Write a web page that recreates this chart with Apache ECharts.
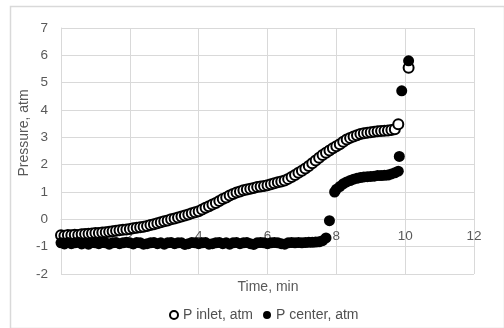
<!DOCTYPE html>
<html>
<head>
<meta charset="utf-8">
<script src="https://cdn.jsdelivr.net/npm/echarts@6/dist/echarts.min.js"></script>
<style>
html, body { margin: 0; padding: 0; background: #fff; }
#chart { width: 504px; height: 328px; }
</style>
</head>
<body>
<div id="chart"></div>
<script>
// 数据：时间（min）与压力（atm）
var inletTime = [
	0.0, 0.1, 0.2, 0.3, 0.4, 0.5, 0.6, 0.7, 0.8, 0.9,
	1.0, 1.1, 1.2, 1.3, 1.4, 1.5, 1.6, 1.7, 1.8, 1.9,
	2.0, 2.1, 2.2, 2.3, 2.4, 2.5, 2.6, 2.7, 2.8, 2.9,
	3.0, 3.1, 3.2, 3.3, 3.4, 3.5, 3.6, 3.7, 3.8, 3.9,
	4.0, 4.1, 4.2, 4.3, 4.4, 4.5, 4.6, 4.7, 4.8, 4.9,
	5.0, 5.1, 5.2, 5.3, 5.4, 5.5, 5.6, 5.7, 5.8, 5.9,
	6.0, 6.1, 6.2, 6.3, 6.4, 6.5, 6.6, 6.7, 6.8, 6.9,
	7.0, 7.1, 7.2, 7.3, 7.4, 7.5, 7.6, 7.7, 7.8, 7.9,
	8.0, 8.1, 8.2, 8.3, 8.4, 8.5, 8.6, 8.7, 8.8, 8.9,
	9.0, 9.1, 9.2, 9.3, 9.4, 9.5, 9.6, 9.7, 9.8, 10.1
];
var inletPressure = [
	-0.58, -0.60, -0.57, -0.58, -0.56, -0.57, -0.55, -0.54, -0.53, -0.52,
	-0.50, -0.50, -0.48, -0.47, -0.45, -0.44, -0.42, -0.40, -0.38, -0.37,
	-0.35, -0.33, -0.31, -0.29, -0.27, -0.24, -0.21, -0.18, -0.14, -0.11,
	-0.07, -0.04, 0.00, 0.03, 0.07, 0.10, 0.14, 0.18, 0.22, 0.26,
	0.30, 0.36, 0.42, 0.48, 0.54, 0.60, 0.67, 0.74, 0.80, 0.87,
	0.93, 0.98, 1.02, 1.06, 1.09, 1.12, 1.15, 1.18, 1.20, 1.22,
	1.25, 1.28, 1.32, 1.36, 1.38, 1.42, 1.48, 1.55, 1.62, 1.70,
	1.78, 1.86, 1.95, 2.05, 2.15, 2.25, 2.35, 2.44, 2.52, 2.60,
	2.67, 2.75, 2.84, 2.92, 2.98, 3.03, 3.08, 3.12, 3.15, 3.17,
	3.19, 3.20, 3.22, 3.23, 3.24, 3.25, 3.27, 3.30, 3.48, 5.55
];
var centerTime = [
	0.0, 0.1, 0.2, 0.3, 0.4, 0.5, 0.6, 0.7, 0.8, 0.9,
	1.0, 1.1, 1.2, 1.3, 1.4, 1.5, 1.6, 1.7, 1.8, 1.9,
	2.0, 2.1, 2.2, 2.3, 2.4, 2.5, 2.6, 2.7, 2.8, 2.9,
	3.0, 3.1, 3.2, 3.3, 3.4, 3.5, 3.6, 3.7, 3.8, 3.9,
	4.0, 4.1, 4.2, 4.3, 4.4, 4.5, 4.6, 4.7, 4.8, 4.9,
	5.0, 5.1, 5.2, 5.3, 5.4, 5.5, 5.6, 5.7, 5.8, 5.9,
	6.0, 6.1, 6.2, 6.3, 6.4, 6.5, 6.6, 6.7, 6.8, 6.9,
	7.0, 7.1, 7.2, 7.3, 7.4, 7.5, 7.6, 7.7, 7.8, 7.95,
	8.0, 8.1, 8.2, 8.3, 8.4, 8.5, 8.6, 8.7, 8.8, 8.9,
	9.0, 9.1, 9.2, 9.3, 9.4, 9.5, 9.6, 9.7, 9.8, 9.83,
	9.9, 10.1
];
var centerPressure = [
	-0.86, -0.90, -0.85, -0.89, -0.86, -0.84, -0.90, -0.86, -0.91, -0.85,
	-0.86, -0.89, -0.85, -0.86, -0.91, -0.86, -0.85, -0.89, -0.86, -0.84,
	-0.86, -0.90, -0.85, -0.86, -0.91, -0.89, -0.86, -0.85, -0.89, -0.86,
	-0.91, -0.86, -0.85, -0.89, -0.86, -0.86, -0.92, -0.89, -0.85, -0.86,
	-0.89, -0.86, -0.85, -0.91, -0.89, -0.86, -0.85, -0.89, -0.86, -0.91,
	-0.86, -0.85, -0.89, -0.86, -0.85, -0.89, -0.92, -0.86, -0.85, -0.86,
	-0.89, -0.86, -0.85, -0.86, -0.89, -0.91, -0.86, -0.85, -0.86, -0.85,
	-0.86, -0.85, -0.84, -0.84, -0.83, -0.82, -0.78, -0.68, -0.05, 1.00,
	1.10, 1.20, 1.30, 1.37, 1.42, 1.47, 1.50, 1.53, 1.55, 1.56,
	1.57, 1.58, 1.60, 1.60, 1.61, 1.62, 1.66, 1.70, 1.76, 2.30,
	4.70, 5.80
];
var seriesNames = ['P inlet, atm', 'P center, atm'];
var yTicks = { min: -2, max: 7, interval: 1 };
var xTicks = { min: 0, max: 12, interval: 2 };

function pairs(xs, ys) {
	var out = [];
	for (var i = 0; i < xs.length; i++) {
		out.push([xs[i], ys[i]]);
	}
	return out;
}

var textColor = '#595959';
var gridColor = '#d9d9d9';
var fontFamily = '"Liberation Sans", Arial, sans-serif';

// 绘图区位置（像素）
var gridTop = 28, gridBottom = 54;
var plotHeight = 328 - gridTop - gridBottom;
// x轴放在 y=0 处
var xAxisOffset = -plotHeight * (0 - yTicks.min) / (yTicks.max - yTicks.min);

var chart = echarts.init(document.getElementById('chart'));
var option = {
	animation: false,
	grid: { left: 61, right: 30, top: gridTop, bottom: gridBottom },
	textStyle: { fontFamily: fontFamily },
	legend: {
		top: 303,
		left: 164,
		itemWidth: 8,
		itemHeight: 8,
		itemGap: 10,
		selectedMode: false,
		textStyle: { color: '#505050', fontSize: 14, fontFamily: fontFamily },
		data: [
			{ name: seriesNames[0], icon: 'circle', itemStyle: { color: '#fff', borderColor: '#000', borderWidth: 2 } },
			{ name: seriesNames[1], icon: 'circle', itemStyle: { color: '#000' } }
		]
	},
	xAxis: {
		type: 'value',
		min: xTicks.min,
		max: xTicks.max,
		interval: xTicks.interval,
		position: 'bottom',
		offset: xAxisOffset,
		axisLine: { onZero: false, lineStyle: { color: gridColor, width: 1 } },
		axisTick: { show: false },
		axisLabel: { color: textColor, fontSize: 13.5, margin: 10, fontFamily: fontFamily },
		splitLine: { show: true, lineStyle: { color: gridColor, width: 1 } }
	},
	yAxis: {
		type: 'value',
		min: yTicks.min,
		max: yTicks.max,
		interval: yTicks.interval,
		axisLine: { show: true, lineStyle: { color: gridColor } },
		axisTick: { show: false },
		axisLabel: { color: textColor, fontSize: 13.5, margin: 13, fontFamily: fontFamily },
		splitLine: { show: true, lineStyle: { color: gridColor, width: 1 } }
	},
	graphic: [
		{
			type: 'rect',
			left: 8, top: 4,
			shape: { width: 494, height: 322 },
			style: { fill: 'none', stroke: gridColor, lineWidth: 1.5 },
			silent: true
		},
		{
			type: 'text',
			x: 268, y: 287,
			style: { text: 'Time, min', fill: textColor, font: '14px ' + fontFamily, align: 'center', verticalAlign: 'middle' },
			silent: true
		},
		{
			type: 'text',
			x: 24, y: 133,
			rotation: Math.PI / 2,
			style: { text: 'Pressure, atm', fill: textColor, font: '14px ' + fontFamily, align: 'center', verticalAlign: 'middle' },
			silent: true
		}
	],
	series: [
		{
			name: seriesNames[0],
			type: 'scatter',
			symbol: 'circle',
			symbolSize: 10,
			itemStyle: { color: '#fff', borderColor: '#000', borderWidth: 2, opacity: 1 },
			data: pairs(inletTime, inletPressure),
			z: 3
		},
		{
			name: seriesNames[1],
			type: 'scatter',
			symbol: 'circle',
			symbolSize: 11,
			itemStyle: { color: '#000', opacity: 1 },
			data: pairs(centerTime, centerPressure),
			z: 4
		}
	]
};
chart.setOption(option);
</script>
</body>
</html>
